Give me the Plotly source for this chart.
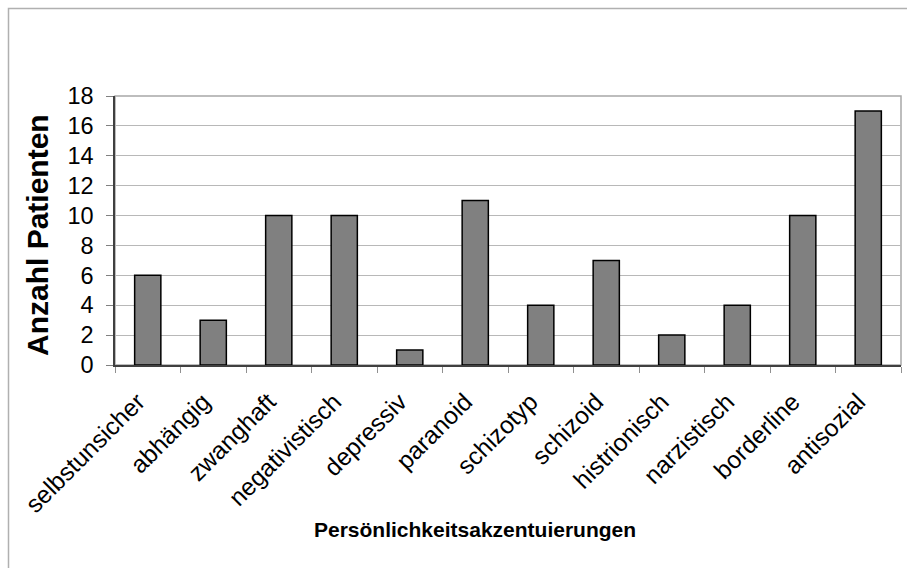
import plotly.graph_objects as go

categories = ["selbstunsicher", "abhängig", "zwanghaft", "negativistisch", "depressiv",
              "paranoid", "schizotyp", "schizoid", "histrionisch", "narzistisch",
              "borderline", "antisozial"]
patients = [6, 3, 10, 10, 1, 11, 4, 7, 2, 4, 10, 17]
y_ticks = list(range(0, 19, 2))

W, H = 907, 568
L, R, T, B = 115, 6, 96, 203
pw, ph = W - L - R, H - T - B

def px_to_paper_x(x):
    return (x - L) / pw

def px_to_paper_y(y):
    return (H - B - y) / ph

fig = go.Figure(go.Bar(
    x=categories,
    y=patients,
    marker=dict(color="#808080", line=dict(color="#000000", width=1.5)),
    width=0.4,
))

font_family = "Liberation Sans, Arial, sans-serif"

fig.update_layout(
    width=W, height=H,
    margin=dict(l=L, r=R, t=T, b=B),
    paper_bgcolor="white",
    plot_bgcolor="white",
    showlegend=False,
    font=dict(family=font_family, color="black"),
    xaxis=dict(
        showgrid=False,
        showline=True, linecolor="#404040", linewidth=1.5,
        ticks="outside", tickson="boundaries", ticklen=6, tickcolor="#909090",
        tickangle=-45,
        tickfont=dict(size=24.5, family=font_family, color="black"),
        ticklabelshift=-10,
        ticklabelstandoff=11,
        fixedrange=True,
    ),
    yaxis=dict(
        range=[0, 18],
        tickvals=y_ticks,
        showgrid=True, gridcolor="#b8b8b8", gridwidth=1,
        zeroline=False,
        showline=True, linecolor="#404040", linewidth=1.5,
        ticks="outside", ticklen=7, tickcolor="#808080",
        tickfont=dict(size=23.5, family=font_family, color="black"),
        ticklabelstandoff=8,
        fixedrange=True,
    ),
    shapes=[
        # outer chart frame (left and top edges fall inside the page)
        dict(type="rect", xref="paper", yref="paper",
             x0=px_to_paper_x(8.5), x1=px_to_paper_x(W + 20),
             y0=px_to_paper_y(H + 20), y1=px_to_paper_y(8.5),
             line=dict(color="#b0b0b0", width=1.5), fillcolor="rgba(0,0,0,0)",
             layer="below"),
        # plot area border
        dict(type="rect", xref="paper", yref="paper",
             x0=0, x1=1, y0=0, y1=1,
             line=dict(color="#a8a8a8", width=1.5), fillcolor="rgba(0,0,0,0)",
             layer="below"),
    ],
    annotations=[
        dict(text="<b>Anzahl Patienten</b>", textangle=-90,
             xref="paper", yref="paper",
             x=px_to_paper_x(37), y=px_to_paper_y(235),
             xanchor="center", yanchor="middle", showarrow=False,
             font=dict(size=30, family=font_family, color="black")),
        dict(text="<b>Persönlichkeitsakzentuierungen</b>",
             xref="paper", yref="paper",
             x=px_to_paper_x(475), y=px_to_paper_y(529),
             xanchor="center", yanchor="middle", showarrow=False,
             font=dict(size=21, family=font_family, color="black")),
    ],
)

fig.write_html("out.html")
